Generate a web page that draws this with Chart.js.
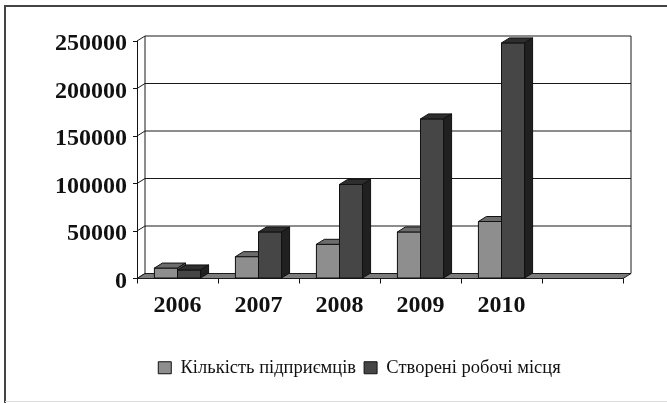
<!DOCTYPE html>
<html>
<head>
<meta charset="utf-8">
<script src="https://cdn.jsdelivr.net/npm/chart.js@4.4.1/dist/chart.umd.min.js"></script>
<style>
  html, body { margin: 0; padding: 0; background: #fff; }
</style>
</head>
<body>
<canvas id="chart" width="667" height="403"></canvas>
<script>
// Données
const years = ['2006', '2007', '2008', '2009', '2010', ''];
const entrepreneurs = [11000, 23000, 36000, 49000, 60000, null];
const jobs = [9000, 49000, 99000, 168000, 248000, null];
const yTicks = [0, 50000, 100000, 150000, 200000, 250000];

const serif = "'Liberation Serif', 'Times New Roman', serif";
const depth = { dx: 8, dy: -5 }; // décalage "3D" vers le mur du fond
const faces = [
    { front: '#8e8e8e', top: '#6c6c6c', side: '#5a5a5a' },
    { front: '#464646', top: '#2e2e2e', side: '#202020' }
];

function poly(ctx, pts, fill) {
    ctx.beginPath();
    ctx.moveTo(pts[0][0], pts[0][1]);
    for (let i = 1; i < pts.length; i++) ctx.lineTo(pts[i][0], pts[i][1]);
    ctx.closePath();
    if (fill) { ctx.fillStyle = fill; ctx.fill(); }
    ctx.stroke();
}

function drawBox(ctx, el, c) {
    const { x, y, base, width } = el.getProps(['x', 'y', 'base', 'width'], true);
    const x0 = x - width / 2, x1 = x + width / 2;
    const dx = depth.dx, dy = depth.dy;
    poly(ctx, [[x0, y], [x1, y], [x1, base], [x0, base]], c.front);
    poly(ctx, [[x0, y], [x0 + dx, y + dy], [x1 + dx, y + dy], [x1, y]], c.top);
    poly(ctx, [[x1, y], [x1 + dx, y + dy], [x1 + dx, base + dy], [x1, base]], c.side);
}

const walls = {
    id: 'walls',
    afterLayout(chart) {
        // la légende est centrée sous la zone de tracé, pas sous toute la figure
        const lg = chart.legend;
        if (lg) {
            lg.left = chart.chartArea.left - 41;
            lg.width = lg.right - lg.left;
        }
    },
    beforeDraw(chart) {
        const ctx = chart.ctx;
        ctx.save();
        ctx.fillStyle = '#fff';
        ctx.fillRect(0, 0, chart.width, chart.height);
        // cadre autour de la figure
        ctx.strokeStyle = '#444';
        ctx.lineWidth = 2;
        ctx.beginPath();
        ctx.moveTo(5, chart.height);
        ctx.lineTo(5, 6);
        ctx.lineTo(chart.width, 6);
        ctx.stroke();
        ctx.strokeStyle = '#ddd';
        ctx.lineWidth = 1;
        ctx.beginPath();
        ctx.moveTo(5, chart.height - 1.5);
        ctx.lineTo(chart.width, chart.height - 1.5);
        ctx.stroke();
        ctx.restore();
    },
    beforeDatasetsDraw(chart) {
        const { ctx, chartArea: a, scales: { y } } = chart;
        const dx = depth.dx, dy = depth.dy;
        const base = y.getPixelForValue(0);
        const top = y.getPixelForValue(yTicks[yTicks.length - 1]);
        ctx.save();
        ctx.strokeStyle = '#1a1a1a';
        ctx.lineWidth = 1;
        // lignes de grille sur le mur du fond + mur de gauche
        yTicks.forEach(v => {
            const py = y.getPixelForValue(v);
            ctx.beginPath();
            ctx.moveTo(a.left + dx, py + dy);
            ctx.lineTo(a.right + dx, py + dy);
            ctx.stroke();
            ctx.beginPath();
            ctx.moveTo(a.left, py);
            ctx.lineTo(a.left + dx, py + dy);
            ctx.stroke();
        });
        // bords verticaux du mur du fond
        ctx.beginPath();
        ctx.moveTo(a.left + dx, top + dy);
        ctx.lineTo(a.left + dx, base + dy);
        ctx.moveTo(a.right + dx, top + dy);
        ctx.lineTo(a.right + dx, base + dy);
        ctx.stroke();
        // plancher
        poly(ctx, [[a.left, base], [a.right, base], [a.right + dx, base + dy], [a.left + dx, base + dy]], '#7c7c7c');
        ctx.restore();
    },
    afterDatasetsDraw(chart) {
        const ctx = chart.ctx;
        ctx.save();
        ctx.lineWidth = 1;
        ctx.strokeStyle = '#111';
        ctx.lineJoin = 'round';
        for (let i = 0; i < years.length; i++) {
            chart.data.datasets.forEach((ds, d) => {
                if (ds.data[i] == null) return;
                const el = chart.getDatasetMeta(d).data[i];
                if (el) drawBox(ctx, el, faces[d]);
            });
        }
        ctx.restore();
    }
};

new Chart(document.getElementById('chart'), {
    type: 'bar',
    data: {
        labels: years,
        datasets: [
            {
                label: 'Кількість підприємців',
                data: entrepreneurs,
                backgroundColor: faces[0].front,
                borderColor: '#111',
                borderWidth: 1,
                categoryPercentage: 0.57,
                barPercentage: 1.0
            },
            {
                label: 'Створені робочі місця',
                data: jobs,
                backgroundColor: faces[1].front,
                borderColor: '#111',
                borderWidth: 1,
                categoryPercentage: 0.57,
                barPercentage: 1.0
            }
        ]
    },
    options: {
        responsive: false,
        animation: false,
        layout: { padding: { top: 41, right: 44, bottom: 16, left: 0 } },
        plugins: {
            tooltip: { enabled: false },
            legend: {
                position: 'bottom',
                labels: {
                    boxWidth: 13,
                    boxHeight: 12,
                    padding: 8,
                    color: '#111',
                    font: { family: serif, size: 18.5 }
                }
            }
        },
        scales: {
            x: {
                ticks: {
                    color: '#111',
                    padding: 8,
                    maxRotation: 0,
                    autoSkip: false,
                    font: { family: serif, size: 24, weight: 'bold' }
                },
                grid: { drawOnChartArea: false, offset: true, tickLength: 5, color: '#111' },
                border: { color: '#111' },
                afterFit: s => { s.height = 72; }
            },
            y: {
                min: 0,
                max: 250000,
                afterBuildTicks: s => { s.ticks = yTicks.map(v => ({ value: v })); },
                ticks: {
                    color: '#111',
                    padding: 6,
                    labelOffset: 3,
                    font: { family: serif, size: 24, weight: 'bold' },
                    callback: v => String(v)
                },
                grid: { drawOnChartArea: false, tickLength: 4, color: '#111' },
                border: { color: '#111' },
                afterFit: s => { s.width = 137; }
            }
        }
    },
    plugins: [walls]
});
</script>
</body>
</html>
